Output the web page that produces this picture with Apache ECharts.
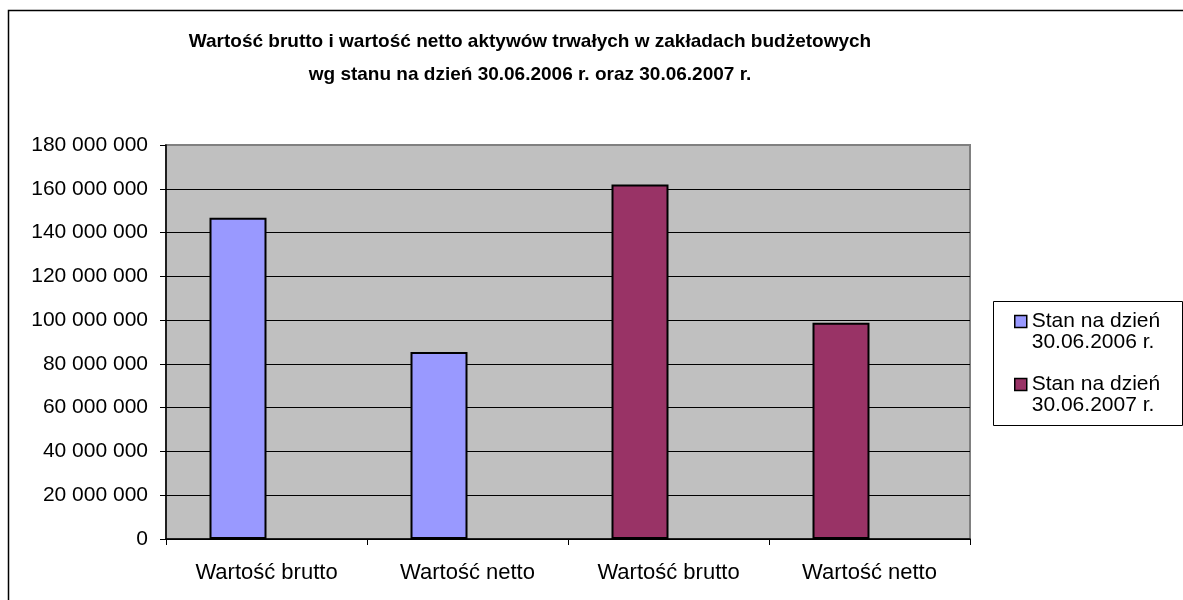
<!DOCTYPE html>
<html>
<head>
<meta charset="utf-8">
<script src="https://cdn.jsdelivr.net/npm/echarts@6/dist/echarts.min.js"></script>
<style>
  html, body { margin: 0; padding: 0; background: #fff; }
  #chart { width: 1183px; height: 600px; }
</style>
</head>
<body>
<div id="chart"></div>
<script>
// categories and values
let categories = ['Wartość brutto', 'Wartość netto', 'Wartość brutto', 'Wartość netto']
let stan2006 = [146800000, 85400000, '-', '-']
let stan2007 = ['-', '-', 162000000, 98800000]
let seriesNames = ['Stan na dzień\n30.06.2006 r.', 'Stan na dzień\n30.06.2007 r.']
let titleLines = [
    'Wartość brutto i wartość netto aktywów trwałych w zakładach budżetowych',
    'wg stanu na dzień 30.06.2006 r. oraz 30.06.2007 r.'
]

let font = 'Liberation Sans, Arial, sans-serif'

function spaced(v)
{
    return String(v).replace(/\B(?=(\d{3})+(?!\d))/g, ' ')
}

let myChart = echarts.init(document.getElementById('chart'))

myChart.setOption({
    animation: false,
    title: {
        text: titleLines.join('\n'),
        left: 530,
        top: 25,
        padding: 0,
        textAlign: 'center',
        textStyle: {
            fontFamily: font,
            fontSize: 19,
            fontWeight: 'bold',
            color: '#000',
            lineHeight: 33
        }
    },
    legend: {
        data: seriesNames,
        orient: 'vertical',
        left: 1014,
        top: 290,
        padding: 0,
        itemGap: 0,
        itemWidth: 12,
        itemHeight: 12,
        icon: 'rect',
        itemStyle: {borderColor: '#000', borderWidth: 1.5},
        // blank first line so the square sits beside the first text line
        formatter: name => ' \n' + name,
        textStyle: {
            fontFamily: font,
            fontSize: 21,
            color: '#000',
            lineHeight: 21
        }
    },
    graphic: [
        {
            type: 'rect',
            shape: {x: 8.5, y: 10.5, width: 1200, height: 620},
            style: {fill: null, stroke: '#000', lineWidth: 1.5},
            silent: true
        },
        {
            type: 'rect',
            shape: {x: 993.5, y: 301.5, width: 189, height: 124},
            style: {fill: '#fff', stroke: '#000', lineWidth: 1},
            z: -1,
            silent: true
        }
    ],
    grid: {
        left: 166,
        right: 213,
        top: 145,
        bottom: 61,
        show: true,
        backgroundColor: '#C0C0C0',
        borderColor: '#808080',
        borderWidth: 2
    },
    xAxis: {
        type: 'category',
        data: categories,
        axisLine: {lineStyle: {color: '#000', width: 1.5}},
        axisTick: {show: true, length: 6, lineStyle: {color: '#000'}},
        axisLabel: {
            fontFamily: font,
            fontSize: 22,
            color: '#000',
            margin: 23
        }
    },
    yAxis: {
        type: 'value',
        min: 0,
        max: 180000000,
        interval: 20000000,
        axisLine: {show: true, lineStyle: {color: '#000', width: 1.5}},
        axisTick: {show: true, length: 6, lineStyle: {color: '#000'}},
        splitLine: {showMaxLine: false, lineStyle: {color: '#000', width: 1}},
        axisLabel: {
            fontFamily: font,
            fontSize: 21,
            color: '#000',
            margin: 18,
            formatter: spaced
        }
    },
    series: [
        {
            name: seriesNames[0],
            type: 'bar',
            stack: 'a',
            data: stan2006,
            barWidth: 57,
            barGap: 0,
            itemStyle: {color: '#9999FF', borderColor: '#000', borderWidth: 2}
        },
        {
            name: seriesNames[1],
            type: 'bar',
            stack: 'a',
            data: stan2007,
            barWidth: 57,
            barGap: 0,
            itemStyle: {color: '#993366', borderColor: '#000', borderWidth: 2}
        },
        {
            // empty second slot, keeps the bars left of each category centre
            name: 'pusty',
            type: 'bar',
            stack: 'b',
            data: [],
            barWidth: 57,
            barGap: 0
        }
    ]
})
</script>
</body>
</html>
